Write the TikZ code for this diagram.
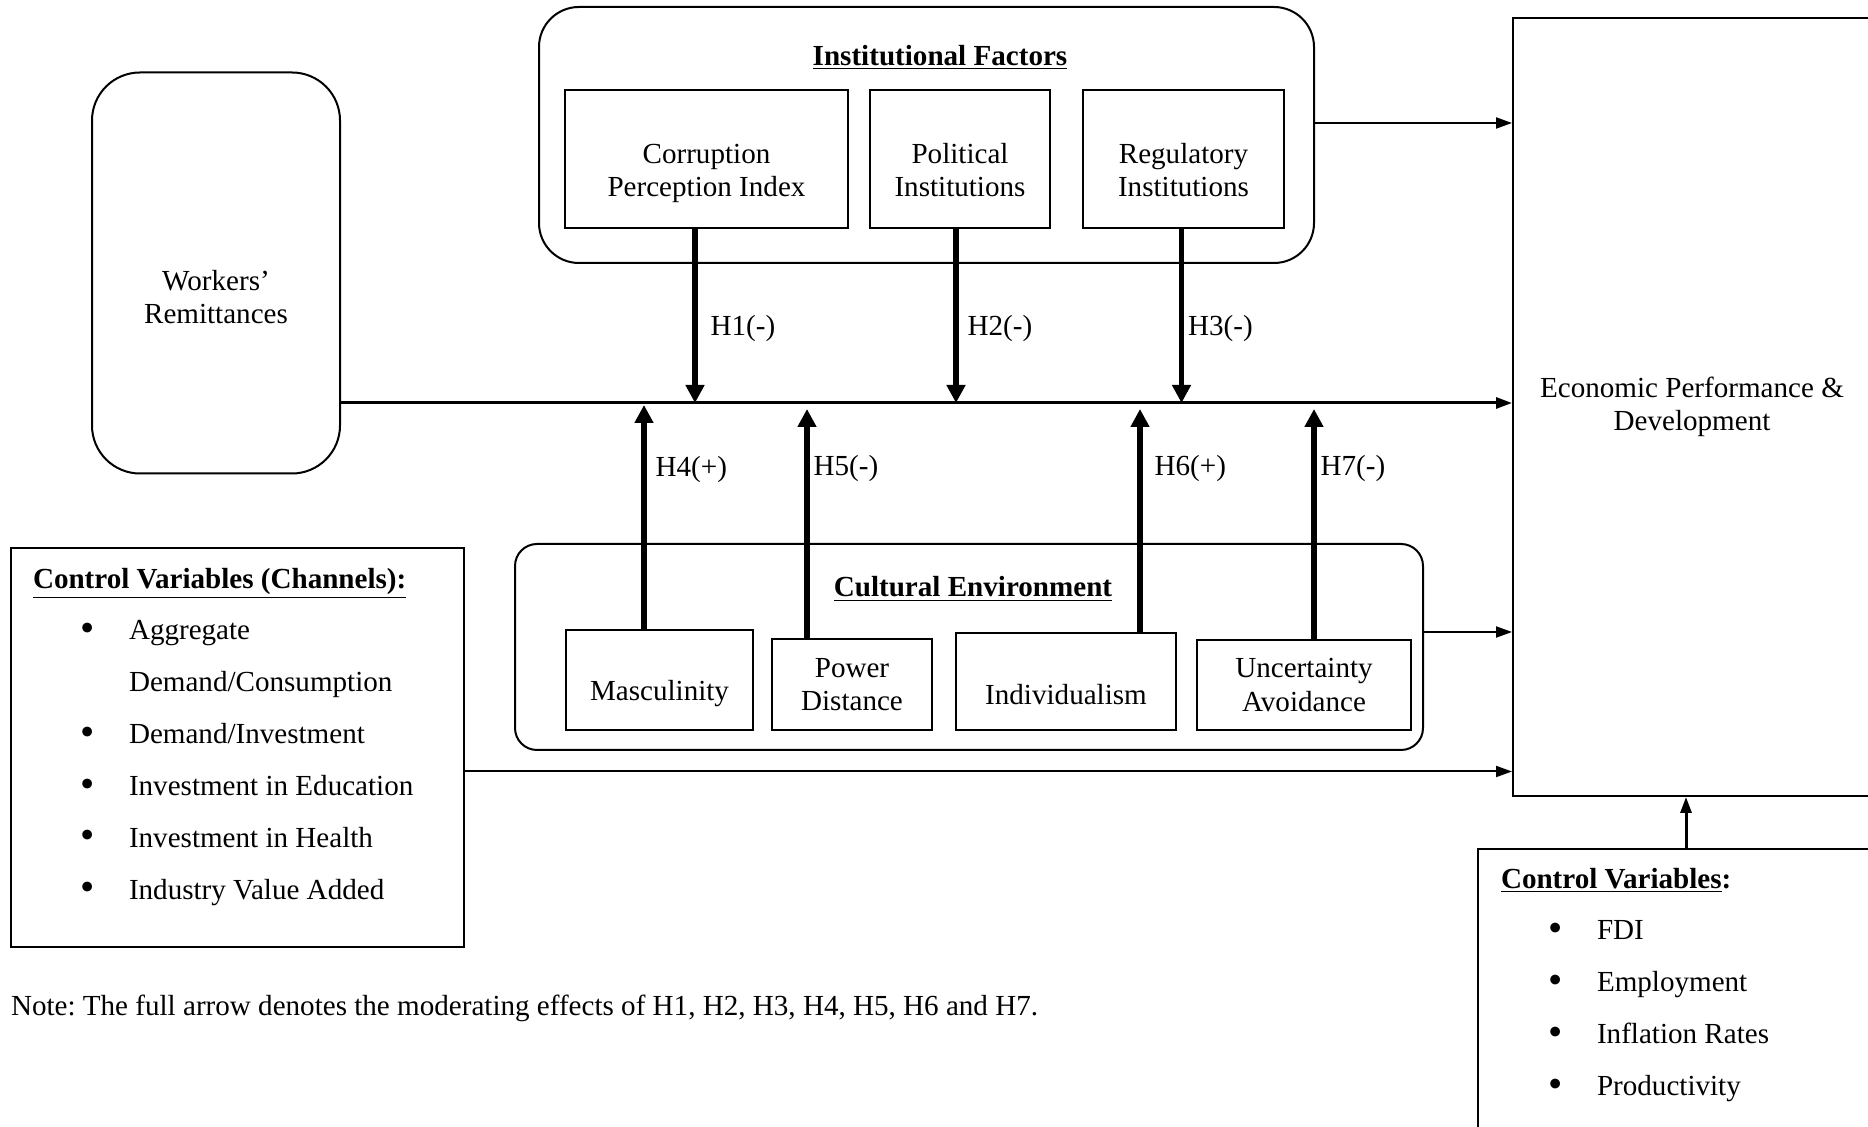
\documentclass[tikz,border=0pt]{standalone}
\usepackage{fontspec}
\setmainfont{Liberation Serif}
\usepackage{tikz}
\usetikzlibrary{arrows.meta}
\frenchspacing

\newcommand{\bitem}[1]{\hspace*{23.5bp}\makebox[24.5bp][l]{\raisebox{-0.8bp}{\scalebox{1.4}{\textbullet}}}#1}
\newcommand{\bcont}[1]{\hspace*{48bp}#1}

\begin{document}
\begin{tikzpicture}
  [x=50bp,y=50bp,line width=1bp,
   font=\fontsize{14.6}{16.8}\selectfont,
   every label/.style={align=center},
   box/.style={draw, rectangle, inner sep=0, align=center},
   rbox/.style={draw, rectangle, rounded corners=20bp, inner sep=0},
   ttl/.style={font=\fontsize{14.6}{16.8}\selectfont\bfseries},
   lst/.style={anchor=north west, align=left, inner sep=0, font=\fontsize{14.6}{26}\selectfont},
   flow/.style={-{Triangle[length=8bp,width=5.5bp]}, line width=1bp},
   hyp/.style={-{Triangle[length=9bp,width=9bp]}, line width=2.6bp}]
  \useasboundingbox (0,0) rectangle (18.68,11.27);
  \clip (0,0) rectangle (18.68,11.27);

  \node[rbox, rounded corners=24bp, minimum width=124bp, minimum height=200.5bp,
        label={[yshift=-12bp]center:Workers’\\Remittances}] (wr) at (2.16,8.54) {};

  \node[rbox, minimum width=387.5bp, minimum height=128bp] (inst) at (9.265,9.92) {};
  \node[ttl] (instt) at (9.40,10.695) {\underline{Institutional Factors}};
  \node[box, minimum width=141.5bp, minimum height=69bp,
        label={[yshift=-7.3bp]center:Corruption\\Perception Index}] (cpi) at (7.065,9.68) {};
  \node[box, minimum width=90bp, minimum height=69bp,
        label={[yshift=-5.5bp]center:Political\\Institutions}] (pol) at (9.60,9.68) {};
  \node[box, minimum width=100.5bp, minimum height=69bp,
        label={[yshift=-5.5bp]center:Regulatory\\Institutions}] (reg) at (11.835,9.68) {};

  \node[rbox, rounded corners=11bp, minimum width=454bp, minimum height=103bp] (cult) at (9.69,4.80) {};
  \node[ttl] (cultt) at (9.73,5.38) {\underline{Cultural Environment}};
  \node[box, minimum width=93.5bp, minimum height=50bp,
        label={[yshift=-7bp]center:Masculinity}] (mas) at (6.595,4.47) {};
  \node[box, minimum width=80bp, minimum height=45.5bp] (pd) at (8.52,4.425) {Power\\Distance};
  \node[box, minimum width=110bp, minimum height=48.5bp,
        label={[yshift=-6.5bp]center:Individualism}] (ind) at (10.66,4.455) {};
  \node[box, minimum width=107bp, minimum height=45bp] (unc) at (13.04,4.42) {Uncertainty\\Avoidance};

  \node[box, minimum width=179bp, minimum height=389bp] (econ) at (16.92,7.20) {Economic Performance \&\\Development};

  \node[box, minimum width=226.5bp, minimum height=199.5bp] (cvl) at (2.375,3.795) {};
  \node[lst] (cvltxt) at (0.32,5.60) {\textbf{\underline{Control Variables (Channels):}}\\
    \bitem{Aggregate}\\ \bcont{Demand/Consumption}\\ \bitem{Demand/Investment}\\
    \bitem{Investment in Education}\\ \bitem{Investment in Health}\\ \bitem{Industry Value Added}};

  \node[box, minimum width=210bp, minimum height=165bp] (cvr) at (16.88,1.13) {};
  \node[lst] (cvrtxt) at (15.00,2.60) {\textbf{\underline{Control Variables}:}\\
    \bitem{FDI}\\ \bitem{Employment}\\ \bitem{Inflation Rates}\\ \bitem{Productivity}};

  \node[anchor=west, inner sep=0] (note) at (0.10,1.19)
    {Note: The full arrow denotes the moderating effects of H1, H2, H3, H4, H5, H6 and H7.};

  % main effect and control channels
  \coordinate (mline) at (0,7.24);
  \draw[flow, line width=1.5bp] (wr.east |- mline) -- (econ.west |- mline);
  \draw[flow] ([yshift=6bp]inst.east) -- ([yshift=6bp]inst.east -| econ.west);
  \draw[flow] ([yshift=7.5bp]cult.east) -- ([yshift=7.5bp]cult.east -| econ.west);
  \draw[flow] ([yshift=-12bp]cvl.east) -- ([yshift=-12bp]cvl.east -| econ.west);
  \draw[flow, line width=1.5bp] ([xshift=-3bp]econ.south |- cvr.north) -- ([xshift=-3bp]econ.south);

  % moderating effects
  \foreach \src/\dx/\off/\lab in {cpi/-5.75bp/6.5bp/H1(-), pol/-2bp/4.5bp/H2(-), reg/-1bp/2bp/H3(-)}
    \draw[hyp] ([xshift=\dx]\src.south) -- ([xshift=\dx]\src.south |- mline)
      node[pos=.57, anchor=west, inner sep=0, xshift=\off] (h\src) {\lab};
  \foreach \src/\dx/\tip/\p/\off/\lab in {mas/-7.75bp/-1bp/.71/4.5bp/H4(+), pd/-22.5bp/-3bp/.74/2bp/H5(-),
                                          ind/37bp/-3bp/.735/6bp/H6(+), unc/5bp/-3bp/.74/2bp/H7(-)}
    \draw[hyp] ([xshift=\dx]\src.north) -- ([xshift=\dx,yshift=\tip]\src.north |- mline)
      node[pos=\p, anchor=west, inner sep=0, xshift=\off] (h\src) {\lab};

\end{tikzpicture}
\end{document}
